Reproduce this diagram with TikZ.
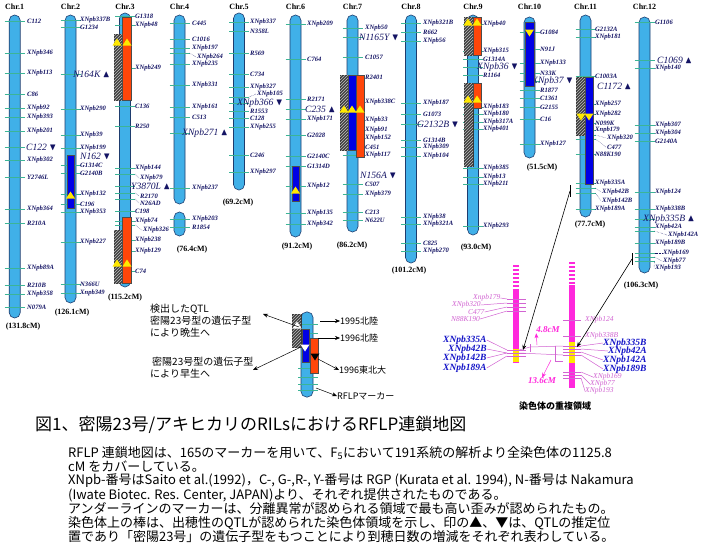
\documentclass[tikz,border=0pt]{standalone}
\usepackage{fontspec}
\setmainfont{Liberation Serif}
\newfontfamily\jp{Noto Sans CJK JP}
\usepackage{amssymb}
\usetikzlibrary{arrows.meta, patterns, calc}
\definecolor{chromblue}{RGB}{64,176,232}
\definecolor{chromline}{RGB}{30,60,110}
\definecolor{tickgreen}{RGB}{60,180,150}
\definecolor{navy}{RGB}{20,20,100}
\definecolor{qtlred}{RGB}{255,70,10}
\definecolor{qtlblue}{RGB}{0,0,230}
\definecolor{qtlyellow}{RGB}{255,232,0}
\definecolor{pinkbar}{RGB}{255,40,220}
\definecolor{pinktext}{RGB}{210,100,210}
\definecolor{bluetext}{RGB}{20,20,200}

\tikzset{
    chrom/.style={draw=chromline, fill=chromblue, line width=0.6pt, rounded corners=5.4pt},
    mk/.style={draw=tickgreen, line width=0.6pt},
    lab/.style={anchor=west, inner sep=0pt, text=navy, font=\fontsize{6.6}{7}\selectfont\bfseries\itshape},
    qlab/.style={anchor=west, inner sep=0pt, text=navy, font=\fontsize{9.6}{10}\selectfont\itshape},
    hdr/.style={inner sep=0pt, font=\fontsize{8}{9}\selectfont\bfseries},
    hatchbox/.style={draw=black!80, fill=black!75, postaction={pattern=north east lines, pattern color=white!75!black}},
    redbox/.style={draw=black!70, fill=qtlred},
    bluebox/.style={draw=black!70, fill=qtlblue},
    lead/.style={draw=navy, densely dotted, line width=0.4pt},
    pinkline/.style={draw=pinktext, line width=0.5pt},
    plab/.style={anchor=west, inner sep=0pt, text=pinktext, font=\fontsize{7.5}{8}\selectfont\itshape},
    blab/.style={anchor=west, inner sep=0pt, text=bluetext, font=\fontsize{9.5}{10}\selectfont\bfseries\itshape},
    legtxt/.style={anchor=west, inner sep=0pt, font=\jp\fontsize{9}{10}\selectfont},
    note/.style={anchor=west, inner sep=0pt, font=\jp\fontsize{10}{12}\selectfont},
    body/.style={anchor=west, inner sep=0pt, font=\jp\fontsize{13}{14}\selectfont},
    arr/.style={-{Stealth[length=5pt,width=4pt]}, line width=0.5pt},
}

% chromosome: centre, top, bottom, name, header, length, length x, length y
\newcommand{\chrbar}[8]{%
    \draw[chrom] (#1-5.5,#2) rectangle (#1+5.5,#3);
    \node[hdr] (#4) at (#1,7) {#5};
    \node[hdr] (#4len) at (#7,#8) {#6};
}
% markers: centre, label x, list y/name
\newcommand{\markers}[3]{%
    \foreach \my/\mname in {#3} {
        \draw[mk] (#1-10,\my) -- (#1+10,\my);
        \node[lab] (\mname) at (#2,\my) {\mname};
    }
}
% marker with dotted leader: centre, tick y, label x, label y, name
\newcommand{\lmark}[5]{%
    \draw[mk] (#1-10,#2) -- (#1+10,#2);
    \draw[lead] (#1+10,#2) -- (#3-1,#4);
    \node[lab] (#5) at (#3,#4) {#5};
}
% QTL marker: centre, label x, y, name, text
\newcommand{\qtlmark}[5]{%
    \draw[mk] (#1-10,#3) -- (#1+10,#3);
    \node[qlab] (#4) at (#2,#3) {#5};
}
\newcommand{\tup}[3][qtlyellow]{\fill[#1] (#2-4.5,#3+3.5) -- (#2+4.5,#3+3.5) -- (#2,#3-3.5) -- cycle;}
\newcommand{\tdown}[3][qtlyellow]{\fill[#1] (#2-4.5,#3-3.5) -- (#2+4.5,#3-3.5) -- (#2,#3+3.5) -- cycle;}
\newcommand{\up}{$\blacktriangle$}
\newcommand{\dn}{$\blacktriangledown$}

\begin{document}
\begin{tikzpicture}[x=1pt, y=-1pt]
    \useasboundingbox (0,0) rectangle (705,546);
    \fill[white] (0,0) rectangle (705,546);

    % chromosomes
    \chrbar{14.7}{15}{318}{c1}{Chr.1}{(131.8cM)}{23}{327}
    \chrbar{70.5}{15}{303}{c2}{Chr.2}{(126.1cM)}{72}{313}
    \chrbar{125}{13}{287}{c3}{Chr.3}{(115.2cM)}{125}{298}
    \chrbar{179.5}{15}{204}{c4}{Chr.4}{(76.4cM)}{192}{250}
    \draw[chrom] (174,212) rectangle (185,236);
    \chrbar{239}{13}{190}{c5}{Chr.5}{(69.2cM)}{238}{203}
    \chrbar{295.5}{15}{237}{c6}{Chr.6}{(91.2cM)}{297}{247}
    \chrbar{352.5}{15}{232}{c7}{Chr.7}{(86.2cM)}{352}{246}
    \chrbar{411}{15}{263}{c8}{Chr.8}{(101.2cM)}{409}{271}
    \chrbar{473}{15}{235}{c9}{Chr.9}{(93.0cM)}{476}{248}
    \chrbar{529.5}{17}{158}{c10}{Chr.10}{(51.5cM)}{542}{168}
    \chrbar{585.5}{15}{217}{c11}{Chr.11}{(77.7cM)}{590}{225}
    \chrbar{644.5}{17}{273}{c12}{Chr.12}{(106.3cM)}{641}{286}

    % markers
    \markers{14.7}{27}{21/C112, 53/XNpb346, 73/XNpb113, 94/C86, 108/XNpb92, 117/XNpb393, 131/XNpb201, 160/XNpb302, 177/Y2746L, 209/XNpb364, 223/R210A, 268/XNpb89A, 285/R210B, 294/XNpb358, 307/N079A}
    \qtlmark{14.7}{26}{147}{C122}{C122 \dn}
    \markers{70.5}{80}{20/XNpb337B, 27/G1234, 109/XNpb290, 135/XNpb39, 148/XNpb199, 165/G1314C, 173/G2140B, 194/XNpb132, 204/C196, 212/XNpb353, 242/XNpb227, 284/N366U, 293/Xnpb349}
    \qtlmark{70.5}{73}{74}{N164K}{N164K \up}
    \node[qlab] (N162) at (80,156) {N162 \dn};
    \markers{125}{135}{16/G1318, 25/XNpb48, 68/XNpb249, 106/C136, 126/R250, 168/XNpb144, 211/C198, 221/XNpb74, 240/XNpb238, 251/XNpb129, 271/C74}
    \lmark{125}{174}{140}{178}{XNpb79}
    \lmark{125}{193}{140}{196}{R2170}
    \lmark{125}{199}{140}{203}{N26AD}
    \lmark{125}{225}{143}{230}{XNpb326}
    \qtlmark{125}{131}{186}{Y3870L}{Y3870L \up}
    \markers{179.5}{192}{23/C445, 39/C1016, 48/XNpb197, 64/XNpb235, 85/XNpb331, 107/XNpb161, 117/C513, 188/XNpb237, 219/XNpb203, 227/R1854}
    \lmark{179.5}{53}{197}{57}{XNpb264}
    \qtlmark{179.5}{182}{133}{XNpb271}{XNpb271 \up}
    \markers{239}{250}{22/XNpb337, 31/N358L, 53/R569, 74/C734, 87/XNpb327, 111/R1553, 118/C128, 127/XNpb255, 155/C246, 172/XNpb297}
    \lmark{239}{97}{257}{94}{XNpb105}
    \qtlmark{239}{237}{103}{XNpb366}{XNpb366 \dn}
    \markers{295.5}{307}{24/XNpb209, 59/C764, 99/R2171, 119/XNpb171, 135/G2028, 156/G2140C, 166/G1314D, 186/XNpb12, 213/XNpb135, 224/XNpb342}
    \qtlmark{295.5}{305}{109}{C235}{C235 \up}
    \markers{352.5}{365}{28/XNpb50, 57/C1057, 77/R2401, 102/XNpb338C, 120/XNpb33, 130/XNpb91, 138/XNpb152, 147/C451, 155/XNpb117, 184/C507, 194/XNpb379, 212/C213, 220/N622U}
    \qtlmark{352.5}{359}{37}{N1165Y}{N1165Y \dn}
    \node[qlab] (N156A) at (360,175) {N156A \dn};
    \markers{411}{423}{23/XNpb321B, 32/R662, 41/XNpb56, 103/XNpb187, 114/G1073, 140/G1314B, 147/XNpb309, 156/XNpb104, 217/XNpb38, 224/XNpb321A, 243/C825, 251/XNpb270}
    \qtlmark{411}{417}{124}{G2132B}{G2132B \dn}
    \markers{473}{483}{24/XNpb40, 51/XNpb315, 59/G1314A, 75/R1164, 107/XNpb183, 114/XNpb180, 122/XNpb317A, 129/XNpb401, 168/XNpb385, 177/XNpb13, 184/XNpb211, 226/XNpb293}
    \qtlmark{473}{477}{67}{XNpb36}{XNpb36 \dn}
    \markers{529.5}{540}{32/G1084, 49/N91J, 63/XNpb133, 73/N33K, 90/R1877, 98/C1361, 107/G2155, 119/C16, 144/XNpb127}
    \qtlmark{529.5}{532}{81}{XNpb37}{XNpb37 \dn}
    \markers{585.5}{595}{29/G2132A, 37/XNpb181, 76/C1003A, 104/XNpb257, 114/XNpb282, 123/N099K, 130/Xnpb179, 154/N88K190, 183/XNpb335A, 209/XNpb189A}
    \lmark{585.5}{135}{607}{138}{XNpb320}
    \lmark{585.5}{139}{607}{147}{C477}
    \lmark{585.5}{188}{602}{192}{XNpb42B}
    \lmark{585.5}{193}{602}{201}{XNpb142B}
    \node[qlab] (C1172) at (597,86) {C1172 \up};
    \markers{644.5}{655}{22/G1106, 68/XNpb140, 125/XNpb307, 133/XNpb304, 141/G2140A, 192/XNpb124, 209/XNpb338B, 227/XNpb42A, 243/XNpb189B}
    \lmark{644.5}{231}{668}{235}{XNpb142A}
    \lmark{644.5}{253}{663}{253}{XNpb169}
    \lmark{644.5}{257}{663}{261}{XNpb77}
    \lmark{644.5}{261}{655}{268}{XNpb193}
    \qtlmark{644.5}{657}{60}{C1069}{C1069 \up}
    \qtlmark{644.5}{643}{219}{XNpb335B}{XNpb335B \up}

    % QTL bars
    \draw[bluebox] (67,155) rectangle (74,208);
    \tup{70.5}{195}
    \draw[hatchbox] (114,34) rectangle (122,100);
    \draw[redbox] (122,17) rectangle (131,100);
    \tup{117}{42} \tup{127}{42}
    \draw[hatchbox] (114,230) rectangle (122,283);
    \draw[redbox] (122,217) rectangle (131,283);
    \tup{117}{263} \tup{127}{263}
    \draw[bluebox] (292,166) rectangle (299,201);
    \tup{295.5}{190}
    \draw[hatchbox] (340,75) rectangle (348,150);
    \draw[bluebox] (348,75) rectangle (356,150);
    \draw[redbox] (356,75) rectangle (364,157);
    \tup{344}{109} \tup{352}{109} \tup{360}{109}
    \draw[hatchbox] (464,17) rectangle (473,55);
    \draw[redbox] (473,17) rectangle (481,55);
    \tup{468}{22} \tup{477}{22}
    \draw[hatchbox] (464,83) rectangle (473,166);
    \draw[redbox] (473,83) rectangle (481,108);
    \tup{468}{99} \tup{477}{99}
    \draw[bluebox] (525,22) rectangle (534,86);
    \tdown{529.5}{33}
    \draw[hatchbox] (576,77) rectangle (585,135);
    \draw[bluebox] (585,77) rectangle (593,184);
    \tdown{581}{117} \tdown{589}{117}

    % legend
    \draw[chrom] (301,312) rectangle (313,397);
    \foreach \y in {324,333,345,368,377,384,390}
        \draw[mk] (298,\y) -- (318,\y);
    \draw[hatchbox] (292,314) rectangle (301,347);
    \tup[white]{297}{325}
    \draw[bluebox] (302,329) rectangle (309,362);
    \tdown[white]{305}{348}
    \draw[redbox] (310,338) rectangle (318,373);
    \tdown[black]{315}{357}
    \node[legtxt] (lgA) at (340,321) {1995北陸};
    \node[legtxt] (lgB) at (340,338) {1996北陸};
    \node[legtxt] (lgC) at (339,370) {1996東北大};
    \node[legtxt] (lgD) at (337,396) {RFLPマーカー};
    \coordinate (lA) at (320,321);
    \coordinate (lB) at (318,338);
    \coordinate (lC) at (318,359);
    \coordinate (lD) at (316,388);
    \draw[arr] (lA) -- (lgA.west);
    \draw[arr] (lB) -- (lgB.west);
    \draw[arr] (lC) -- (lgC.west);
    \draw[arr] (lD) -- (lgD.west);
    \node[note] (n1) at (150,309) {検出したQTL};
    \node[note] (n2) at (150,321) {密陽23号型の遺伝子型};
    \node[note] (n3) at (150,333) {により晩生へ};
    \node[note] (n4) at (152,362) {密陽23号型の遺伝子型};
    \node[note] (n5) at (150,374) {により早生へ};
    \coordinate (lH) at (299,327);
    \coordinate (nH) at (263,314);
    \coordinate (lW) at (301,347);
    \coordinate (nW) at (253,370);
    \draw[arr] (lH) -- (nH);
    \draw[arr] (lW) -- (nW);

    % overlapping region
    \draw[pinkbar, line width=6pt, dash pattern=on 2pt off 2pt] (516,265) -- (516,290);
    \fill[pinkbar] (513,290) rectangle (519,363);
    \fill[qtlyellow] (513,349) rectangle (519,362);
    \draw[pinkbar, line width=6pt, dash pattern=on 2pt off 2pt] (571.5,262) -- (571.5,285);
    \fill[pinkbar] (568.5,285) rectangle (574.5,388);
    \fill[qtlyellow] (568.5,342) rectangle (574.5,363);
    \foreach \y in {299,303,307,311,350,353,356}
        \draw[pinkline] (507,\y) -- (526,\y);
    \foreach \y in {320,336,346,349,352,355,372,375,378}
        \draw[pinkline] (563,\y) -- (581,\y);
    \node[plab] (pXnpb179) at (473,298) {Xnpb179};
    \node[plab] (pXNpb320) at (452,305) {XNpb320};
    \node[plab] (pC477) at (468,312) {C477};
    \node[plab] (pN88K190) at (451,319) {N88K190};
    \draw[pinkline] (pXnpb179.east) -- (507,299);
    \draw[pinkline] (pXNpb320.east) -- (507,303);
    \draw[pinkline] (pC477.east) -- (507,307);
    \draw[pinkline] (pN88K190.east) -- (507,311);
    \node[blab] (bXNpb335A) at (443,340) {XNpb335A};
    \node[blab] (bXNpb42B) at (448,349) {XNpb42B};
    \node[blab] (bXNpb142B) at (443,358) {XNpb142B};
    \node[blab] (bXNpb189A) at (443,368) {XNpb189A};
    \draw[pinkline] (bXNpb335A.east) -- (507,350);
    \draw[pinkline] (bXNpb42B.east) -- (507,353);
    \draw[pinkline] (bXNpb142B.east) -- (507,353);
    \draw[pinkline] (bXNpb189A.east) -- (507,356);
    \node[blab] (bXNpb335B) at (603,343) {XNpb335B};
    \node[blab] (bXNpb42A) at (608,351) {XNpb42A};
    \node[blab] (bXNpb142A) at (603,360) {XNpb142A};
    \node[blab] (bXNpb189B) at (603,369) {XNpb189B};
    \draw[pinkline] (581,346) -- (bXNpb335B.west);
    \draw[pinkline] (581,349) -- (bXNpb42A.west);
    \draw[pinkline] (581,352) -- (bXNpb142A.west);
    \draw[pinkline] (581,355) -- (bXNpb189B.west);
    \node[plab] (pXNpb124) at (585,320) {XNpb124};
    \node[plab] (pXNpb338B) at (585,336) {XNpb338B};
    \node[plab] (pXNpb169) at (593,377) {XNpb169};
    \node[plab] (pXNpb77) at (590,384) {XNpb77};
    \node[plab] (pXNpb193) at (585,391) {XNpb193};
    \draw[pinkline] (581,372) -- (pXNpb169.west);
    \draw[pinkline] (581,375) -- (pXNpb77.west);
    \draw[pinkline] (581,378) -- (pXNpb193.west);
    \draw[pinkline] (519,350) -- (530,347) -- (563,346);
    \draw[pinkline] (519,353) -- (563,355);
    \draw[pinkline] (530,344) -- (530,352);
    \draw[pinkline] (555,346) -- (555,361) -- (563,361);
    \node[font=\fontsize{9}{10}\selectfont\itshape\bfseries, text=pinkbar, inner sep=0pt] (cm48) at (548,330) {4.8cM};
    \node[font=\fontsize{9}{10}\selectfont\itshape\bfseries, text=pinkbar, inner sep=0pt] (cm136) at (542,381) {13.6cM};
    \coordinate (s48) at (537,345);
    \coordinate (s136) at (551,360);
    \draw[arr, pinkbar] (s48) -- (cm48.south west);
    \draw[arr, pinkbar] (s136) -- (cm136.north);
    \node[font=\jp\bfseries\fontsize{9}{10}\selectfont, inner sep=0pt] (ovl) at (555,406) {染色体の重複領域};

    % links to the overlap
    \coordinate (br11) at (570,191);
    \coordinate (br12) at (632,259);
    \coordinate (ylw11) at (523,350);
    \coordinate (ylw12) at (577,347);
    \draw[line width=0.5pt] (570,185) -- (570,197);
    \draw[line width=0.5pt] (632,253) -- (632,265);
    \draw[arr, line width=0.6pt] (br11) -- (ylw11);
    \draw[arr, line width=0.6pt] (br12) -- (ylw12);

    % caption
    \node[anchor=west, inner sep=0pt, font=\jp\fontsize{17}{18}\selectfont] (title) at (35,425)
        {図1、密陽23号/アキヒカリのRILsにおけるRFLP連鎖地図};
    \node[body] (t1) at (68,453) {RFLP 連鎖地図は、165のマーカーを用いて、F\textsubscript{5}において191系統の解析より全染色体の1125.8};
    \node[body] (t2) at (68,467) {cM をカバーしている。};
    \node[body] (t3) at (68,481) {XNpb-番号はSaito et al.(1992)，C-, G-,R-, Y-番号は RGP (Kurata et al. 1994), N-番号は Nakamura};
    \node[body] (t4) at (68,495) {(Iwate Biotec. Res. Center, JAPAN)より、それぞれ提供されたものである。};
    \node[body] (t5) at (68,509) {アンダーラインのマーカーは、分離異常が認められる領域で最も高い歪みが認められたもの。};
    \node[body] (t6) at (68,523) {染色体上の棒は、出穂性のQTLが認められた染色体領域を示し、印の▲、▼は、QTLの推定位};
    \node[body] (t7) at (68,537) {置であり「密陽23号」の遺伝子型をもつことにより到穂日数の増減をそれぞれ表わしている。};
\end{tikzpicture}
\end{document}
